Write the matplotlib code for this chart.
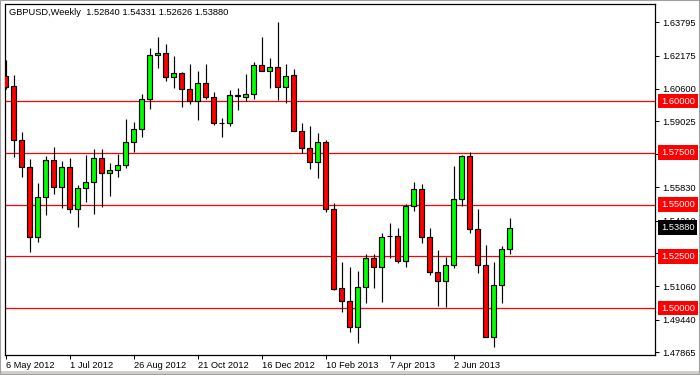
import matplotlib
matplotlib.use("Agg")
import matplotlib.pyplot as plt
import matplotlib.transforms as mtransforms
from matplotlib.patches import Rectangle
import numpy as np

plt.rcParams['font.family'] = ['Liberation Sans', 'DejaVu Sans']

symbol_title = "GBPUSD,Weekly  1.52840 1.54331 1.52626 1.53880"

opens = [1.6121, 1.6071, 1.5810, 1.5680, 1.5344, 1.5535, 1.5713, 1.5583, 1.5681, 1.5477,
         1.5578, 1.5607, 1.5723, 1.5651, 1.5665, 1.5689, 1.5800, 1.5863, 1.6008, 1.6221,
         1.6230, 1.6117, 1.6134, 1.6057, 1.5999, 1.6086, 1.6018, 1.5895, 1.5893, 1.6026,
         1.6021, 1.6032, 1.6172, 1.6146, 1.6163, 1.6066, 1.6124, 1.5854, 1.5771, 1.5704,
         1.5800, 1.5477, 1.5095, 1.5032, 1.4907, 1.5100, 1.5240, 1.5197, 1.5346, 1.5349,
         1.5226, 1.5491, 1.5573, 1.5342, 1.5172, 1.5129, 1.5206, 1.5525, 1.5736, 1.5383,
         1.5206, 1.4858, 1.5110, 1.52840]
highs = [1.6198, 1.6127, 1.5850, 1.5720, 1.5602, 1.5734, 1.5778, 1.5710, 1.5725, 1.5594,
         1.5739, 1.5768, 1.5768, 1.5699, 1.5742, 1.5913, 1.5899, 1.6034, 1.6256, 1.6309,
         1.6275, 1.6217, 1.6138, 1.6177, 1.6143, 1.6177, 1.6042, 1.5916, 1.6052, 1.6063,
         1.6129, 1.6187, 1.6309, 1.6208, 1.6383, 1.6177, 1.6155, 1.5894, 1.5879, 1.5845,
         1.5810, 1.5506, 1.5222, 1.5197, 1.5179, 1.5259, 1.5259, 1.5361, 1.5409, 1.5385,
         1.5501, 1.5607, 1.5598, 1.5385, 1.5280, 1.5245, 1.5686, 1.5741, 1.5752, 1.5478,
         1.5303, 1.5221, 1.5301, 1.54331]
lows = [1.6058, 1.5731, 1.5631, 1.5269, 1.5320, 1.5451, 1.5551, 1.5485, 1.5460, 1.5393,
        1.5512, 1.5456, 1.5489, 1.5543, 1.5634, 1.5678, 1.5752, 1.5825, 1.5960, 1.6161,
        1.6098, 1.6064, 1.5972, 1.5984, 1.5910, 1.6008, 1.5884, 1.5828, 1.5879, 1.5958,
        1.6000, 1.6011, 1.6146, 1.6064, 1.6005, 1.5992, 1.5854, 1.5747, 1.5673, 1.5630,
        1.5462, 1.5087, 1.4982, 1.4883, 1.4829, 1.5026, 1.5095, 1.5030, 1.5240, 1.5216,
        1.5197, 1.5467, 1.5313, 1.5158, 1.5011, 1.5006, 1.5195, 1.5494, 1.5364, 1.5168,
        1.4858, 1.4813, 1.5026, 1.52626]
closes = [1.6069, 1.5810, 1.5680, 1.5344, 1.5535, 1.5713, 1.5583, 1.5681, 1.5477, 1.5578,
          1.5607, 1.5723, 1.5651, 1.5665, 1.5689, 1.5800, 1.5863, 1.6008, 1.6221, 1.6230,
          1.6117, 1.6134, 1.6057, 1.5999, 1.6086, 1.6018, 1.5892, 1.5893, 1.6028, 1.6028,
          1.6032, 1.6172, 1.6146, 1.6163, 1.6066, 1.6119, 1.5854, 1.5771, 1.5704, 1.5800,
          1.5477, 1.5092, 1.5032, 1.4907, 1.5100, 1.5240, 1.5197, 1.5344, 1.5349, 1.5226,
          1.5491, 1.5573, 1.5342, 1.5172, 1.5129, 1.5206, 1.5525, 1.5736, 1.5383, 1.5206,
          1.4858, 1.5110, 1.5284, 1.53880]

date_tick_bars = [0, 8, 16, 24, 32, 40, 48, 56]
date_tick_labels = ["6 May 2012", "1 Jul 2012", "26 Aug 2012", "21 Oct 2012",
                    "16 Dec 2012", "10 Feb 2013", "7 Apr 2013", "2 Jun 2013"]

price_ticks = [1.63795, 1.62175, 1.60600, 1.59025, 1.57450, 1.55830, 1.54210,
               1.52635, 1.51060, 1.49440, 1.47865]
price_tick_labels = ["1.63795", "1.62175", "1.60600", "1.59025", "", "1.55830", "1.54210",
                     "", "1.51060", "1.49440", "1.47865"]
levels = [1.60000, 1.57500, 1.55000, 1.52500, 1.50000]
last_price = 1.53880

W, H = 700, 375
fig = plt.figure(figsize=(7, 3.75), dpi=100, facecolor='white')
L, R, T, B = 5, 655, 4, 355
ax = fig.add_axes([L / W, 1 - B / H, (R - L) / W, (B - T) / H])
ax.set_facecolor('white')

o = np.array(opens); h = np.array(highs); l = np.array(lows); c = np.array(closes)
x = np.arange(len(o))
up = c >= o
cols = np.where(up, '#00ff00', '#ff0000')
body_bottom = np.minimum(o, c)
body_h = np.maximum(np.abs(c - o), 0.00006)

for lv in levels:
    ax.axhline(lv, color='#ff0000', lw=0.9, zorder=1)

ax.vlines(x, l, h, color='black', lw=0.85, zorder=2)
ax.bar(x, body_h, bottom=body_bottom, width=0.62, color=cols,
       edgecolor='black', linewidth=0.85, zorder=3)

ax.set_xlim(-0.0625, (R - L - 0.5) / 8.0)
ax.set_ylim(1.60 - 254 / 2070, 1.60 + 97 / 2070)

ax.set_xticks(date_tick_bars)
ax.set_xticklabels(date_tick_labels)
for lab in ax.get_xticklabels():
    lab.set_horizontalalignment('left')
ax.yaxis.tick_right()
ax.set_yticks(price_ticks)
ax.set_yticklabels(price_tick_labels)

fs = 6.7
ax.tick_params(axis='both', direction='out', length=3, width=0.75, color='black',
               labelsize=fs, labelcolor='black')
ax.tick_params(axis='y', pad=2)
ax.tick_params(axis='x', pad=1.5)

for s in ax.spines.values():
    s.set_color('black')
    s.set_linewidth(0.9)

ax.text(4.3 / (R - L), 1 - 8.5 / (B - T), symbol_title, transform=ax.transAxes,
        fontsize=fs, va='center', ha='left', color='black')

trans = mtransforms.blended_transform_factory(ax.transAxes, ax.transData)
for lv in levels:
    ax.text(1 + 6 / (R - L), lv, f"{lv:.5f}", transform=trans, fontsize=fs,
            color='white', va='center', ha='left', zorder=10, clip_on=False,
            bbox=dict(boxstyle='square,pad=0.3', facecolor='#ff0000', edgecolor='none'))
ax.text(1 + 6 / (R - L), last_price, f"{last_price:.5f}", transform=trans, fontsize=fs,
        color='white', va='center', ha='left', zorder=10, clip_on=False,
        bbox=dict(boxstyle='square,pad=0.3', facecolor='black', edgecolor='none'))

fig.patches.append(Rectangle((0, 0), 1, 4 / H, transform=fig.transFigure,
                             facecolor='#d4d0c8', edgecolor='none', zorder=0))
fig.patches.append(Rectangle((0, 0), 1, 1, transform=fig.transFigure,
                             fill=False, edgecolor='#a0a0a0', lw=1.5, zorder=5))

fig.savefig('out.png', dpi=100, facecolor=fig.get_facecolor())
